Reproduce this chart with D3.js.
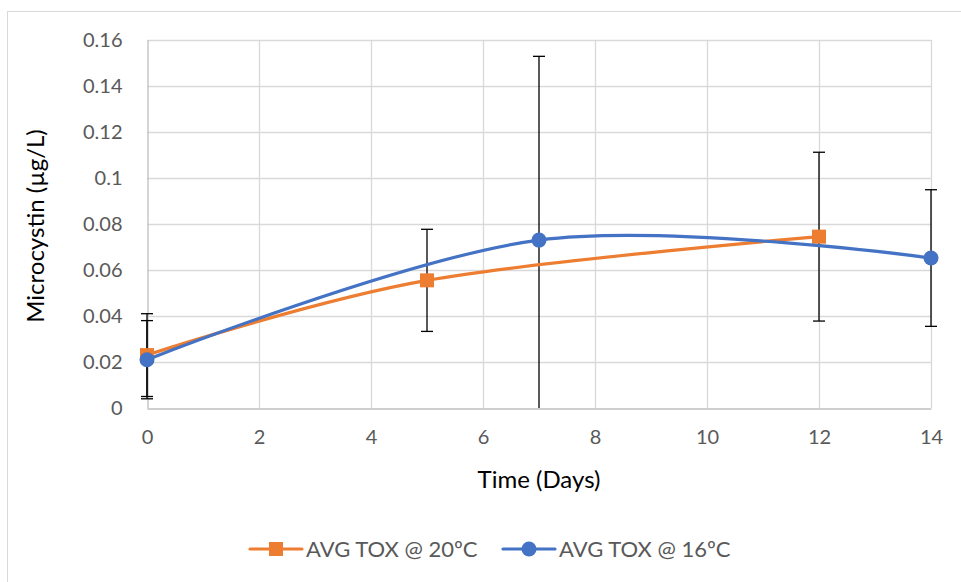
<!DOCTYPE html>
<html>
<head>
<meta charset="utf-8">
<script src="https://cdn.jsdelivr.net/npm/d3@7"></script>
<style>
  body { margin: 0; background: #fff; }
  text { font-family: Lato, "Open Sans", sans-serif; }
</style>
</head>
<body>
<div id="chart"></div>
<script>
// series data
let days20 = [0, 5, 12];
let tox20 = [0.023, 0.0555, 0.0745];
let err20 = [0.018, 0.0222, 0.0367];

let days16 = [0, 7, 14];
let tox16 = [0.021, 0.073, 0.0652];
let err16 = [0.017, 0.0799, 0.0297];

let xTicks = [0, 2, 4, 6, 8, 10, 12, 14];
let yTicks = [0, 0.02, 0.04, 0.06, 0.08, 0.1, 0.12, 0.14, 0.16];

let seriesNames = ["AVG TOX @ 20ºC", "AVG TOX @ 16ºC"];
let colors = ["#ed7d31", "#4472c4"];

let W = 961, H = 582;

let svg = d3.select("#chart").append("svg")
  .attr("width", W).attr("height", H);

// chart border
svg.append("rect")
  .attr("x", 7.5).attr("y", 11.5)
  .attr("width", W).attr("height", H)
  .attr("fill", "none").attr("stroke", "#d9d9d9");

let xScale = d3.scaleLinear().domain([0, 14]).range([147, 931]);
let yScale = d3.scaleLinear().domain([0, 0.16]).range([408, 40]);

// gridlines
svg.append("g").selectAll("line.h")
  .data(yTicks.slice(1)).enter().append("line")
  .attr("x1", xScale(0)).attr("x2", xScale(14))
  .attr("y1", d => Math.round(yScale(d)) + 0.5).attr("y2", d => Math.round(yScale(d)) + 0.5)
  .attr("stroke", "#d9d9d9").attr("stroke-width", 1.3);

svg.append("g").selectAll("line.v")
  .data(xTicks.slice(1)).enter().append("line")
  .attr("x1", d => Math.round(xScale(d)) + 0.5).attr("x2", d => Math.round(xScale(d)) + 0.5)
  .attr("y1", yScale(0.16)).attr("y2", yScale(0))
  .attr("stroke", "#d9d9d9").attr("stroke-width", 1.3);

// axes
let xAxis = svg.append("g")
  .attr("transform", "translate(0," + (yScale(0) + 0.5) + ")")
  .call(d3.axisBottom(xScale).tickValues(xTicks).tickSize(0).tickPadding(21));
xAxis.select(".domain").attr("stroke", "#bfbfbf").attr("stroke-width", 1.3);
xAxis.selectAll("text").attr("fill", "#595959").style("font-size", "20px");

let yAxis = svg.append("g")
  .attr("transform", "translate(" + (xScale(0) + 0.5) + ",0)")
  .call(d3.axisLeft(yScale).tickValues(yTicks).tickSize(0).tickPadding(25)
    .tickFormat(d => d === 0 ? "0" : String(+d.toFixed(2))));
yAxis.select(".domain").attr("stroke", "#bfbfbf").attr("stroke-width", 1.3);
yAxis.selectAll("text").attr("fill", "#595959").style("font-size", "20px");

// axis titles
svg.append("text")
  .attr("x", (xScale(0) + xScale(14)) / 2).attr("y", 488)
  .attr("text-anchor", "middle")
  .style("font-size", "24px")
  .text("Time (Days)");

svg.append("text")
  .attr("transform", "translate(44," + 226 + ") rotate(-90)")
  .attr("text-anchor", "middle")
  .style("font-size", "24px")
  .text("Microcystin (µg/L)");

let series = [
  { name: seriesNames[0], color: colors[0], shape: "square",
    pts: days20.map((d, i) => ({ x: d, y: tox20[i], e: err20[i] })) },
  { name: seriesNames[1], color: colors[1], shape: "circle",
    pts: days16.map((d, i) => ({ x: d, y: tox16[i], e: err16[i] })) }
];

let line = d3.line()
  .x(d => xScale(d.x)).y(d => yScale(d.y))
  .curve(d3.curveCardinal.tension(0));

// error bars
series.forEach(s => {
  let g = svg.append("g");
  s.pts.forEach(p => {
    let cx = xScale(p.x);
    let top = yScale(p.y + p.e);
    let bot = yScale(Math.max(0, p.y - p.e));
    g.append("line").attr("x1", cx).attr("x2", cx).attr("y1", top).attr("y2", bot)
      .attr("stroke", "#000").attr("stroke-width", 1.3);
    g.append("line").attr("x1", cx - 6).attr("x2", cx + 6).attr("y1", top).attr("y2", top)
      .attr("stroke", "#000").attr("stroke-width", 1.3);
    if (p.y - p.e > 0) {
      g.append("line").attr("x1", cx - 6).attr("x2", cx + 6).attr("y1", bot).attr("y2", bot)
        .attr("stroke", "#000").attr("stroke-width", 1.3);
    }
  });
});

// lines and markers
series.forEach(s => {
  svg.append("path")
    .datum(s.pts)
    .attr("d", line)
    .attr("fill", "none")
    .attr("stroke", s.color)
    .attr("stroke-width", 3.2)
    .attr("stroke-linecap", "round");

  let m = svg.append("g");
  if (s.shape === "square") {
    m.selectAll("rect").data(s.pts).enter().append("rect")
      .attr("x", d => xScale(d.x) - 7).attr("y", d => yScale(d.y) - 7)
      .attr("width", 14).attr("height", 14)
      .attr("fill", s.color);
  } else {
    m.selectAll("circle").data(s.pts).enter().append("circle")
      .attr("cx", d => xScale(d.x)).attr("cy", d => yScale(d.y))
      .attr("r", 7.5)
      .attr("fill", s.color);
  }
});

// legend
let legendX = [250, 503];
series.forEach((s, i) => {
  let lg = svg.append("g").attr("transform", "translate(" + legendX[i] + ",549)");
  lg.append("line").attr("x1", 0).attr("x2", 52).attr("y1", 0).attr("y2", 0)
    .attr("stroke", s.color).attr("stroke-width", 3.2).attr("stroke-linecap", "round");
  if (s.shape === "square") {
    lg.append("rect").attr("x", 19).attr("y", -7).attr("width", 14).attr("height", 14)
      .attr("fill", s.color);
  } else {
    lg.append("circle").attr("cx", 26).attr("cy", 0).attr("r", 7.5).attr("fill", s.color);
  }
  lg.append("text").attr("x", 56).attr("y", 7.5)
    .attr("fill", "#595959").style("font-size", "22px")
    .text(s.name);
});
</script>
</body>
</html>
